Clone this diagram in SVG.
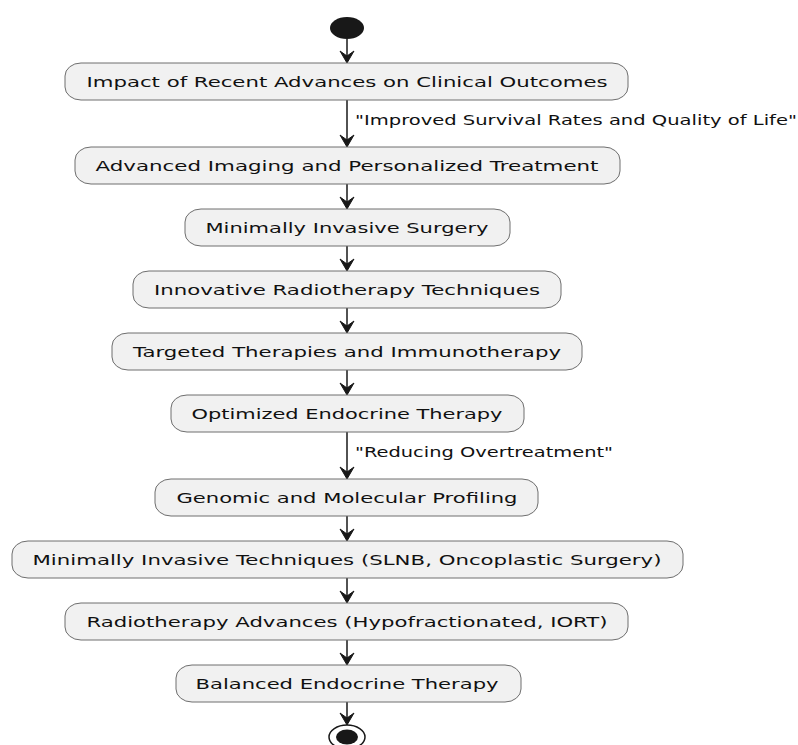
<svg xmlns="http://www.w3.org/2000/svg" width="798" height="745" viewBox="0 0 798 745">
<defs>
<style>
.node rect{fill:#F1F1F1;stroke:#6E6E6E;stroke-width:1}
.node text{font-family:"DejaVu Sans",sans-serif;font-size:14px;fill:#111;text-anchor:middle}
.lbl{font-family:"DejaVu Sans",sans-serif;font-size:13.5px;fill:#111}
.edge{stroke:#181818;stroke-width:1.5;fill:none}
.ah{fill:#181818;stroke:#181818;stroke-width:1}
</style>
</defs>
<rect width="798" height="745" fill="#FFFFFF"/>
<g id="start"><ellipse cx="347" cy="28" rx="17" ry="11" fill="#181818"/></g>
<g id="connectors">
<line class="edge" x1="347" y1="39" x2="347" y2="61"/>
<polygon class="ah" points="340,51 347,63 354,51 347,56"/>
<line class="edge" x1="347" y1="100" x2="347" y2="145"/>
<polygon class="ah" points="340,135 347,147 354,135 347,140"/>
<line class="edge" x1="347" y1="184" x2="347" y2="207"/>
<polygon class="ah" points="340,197 347,209 354,197 347,202"/>
<line class="edge" x1="347" y1="246" x2="347" y2="269"/>
<polygon class="ah" points="340,259 347,271 354,259 347,264"/>
<line class="edge" x1="347" y1="308" x2="347" y2="331"/>
<polygon class="ah" points="340,321 347,333 354,321 347,326"/>
<line class="edge" x1="347" y1="370" x2="347" y2="393"/>
<polygon class="ah" points="340,383 347,395 354,383 347,388"/>
<line class="edge" x1="347" y1="432" x2="347" y2="477"/>
<polygon class="ah" points="340,467 347,479 354,467 347,472"/>
<line class="edge" x1="347" y1="516" x2="347" y2="539"/>
<polygon class="ah" points="340,529 347,541 354,529 347,534"/>
<line class="edge" x1="347" y1="578" x2="347" y2="601"/>
<polygon class="ah" points="340,591 347,603 354,591 347,596"/>
<line class="edge" x1="347" y1="640" x2="347" y2="663"/>
<polygon class="ah" points="340,653 347,665 354,653 347,658"/>
<line class="edge" x1="347" y1="702" x2="347" y2="723"/>
<polygon class="ah" points="340,713 347,725 354,713 347,718"/>
<text class="lbl" x="355" y="125" textLength="442" lengthAdjust="spacingAndGlyphs">"Improved Survival Rates and Quality of Life"</text>
<text class="lbl" x="355" y="457" textLength="258" lengthAdjust="spacingAndGlyphs">"Reducing Overtreatment"</text>
</g>
<g id="n1" class="node"><rect x="65" y="63" width="563" height="37" rx="16" ry="13"/><text x="347" y="87" textLength="521" lengthAdjust="spacingAndGlyphs">Impact of Recent Advances on Clinical Outcomes</text></g>
<g id="n2" class="node"><rect x="75" y="147" width="545" height="37" rx="16" ry="13"/><text x="347" y="171" textLength="503" lengthAdjust="spacingAndGlyphs">Advanced Imaging and Personalized Treatment</text></g>
<g id="n3" class="node"><rect x="185" y="209" width="325" height="37" rx="16" ry="13"/><text x="347" y="233" textLength="283" lengthAdjust="spacingAndGlyphs">Minimally Invasive Surgery</text></g>
<g id="n4" class="node"><rect x="133" y="271" width="428" height="37" rx="16" ry="13"/><text x="347" y="295" textLength="386" lengthAdjust="spacingAndGlyphs">Innovative Radiotherapy Techniques</text></g>
<g id="n5" class="node"><rect x="112" y="333" width="470" height="37" rx="16" ry="13"/><text x="347" y="357" textLength="428" lengthAdjust="spacingAndGlyphs">Targeted Therapies and Immunotherapy</text></g>
<g id="n6" class="node"><rect x="171" y="395" width="353" height="37" rx="16" ry="13"/><text x="347" y="419" textLength="311" lengthAdjust="spacingAndGlyphs">Optimized Endocrine Therapy</text></g>
<g id="n7" class="node"><rect x="155" y="479" width="383" height="37" rx="16" ry="13"/><text x="347" y="503" textLength="341" lengthAdjust="spacingAndGlyphs">Genomic and Molecular Profiling</text></g>
<g id="n8" class="node"><rect x="12" y="541" width="671" height="37" rx="16" ry="13"/><text x="347" y="565" textLength="629" lengthAdjust="spacingAndGlyphs">Minimally Invasive Techniques (SLNB, Oncoplastic Surgery)</text></g>
<g id="n9" class="node"><rect x="65" y="603" width="563" height="37" rx="16" ry="13"/><text x="347" y="627" textLength="521" lengthAdjust="spacingAndGlyphs">Radiotherapy Advances (Hypofractionated, IORT)</text></g>
<g id="n10" class="node"><rect x="176" y="665" width="345" height="37" rx="16" ry="13"/><text x="347" y="689" textLength="303" lengthAdjust="spacingAndGlyphs">Balanced Endocrine Therapy</text></g>
<g id="end"><ellipse cx="347" cy="737" rx="18" ry="12" fill="none" stroke="#181818" stroke-width="1.5"/><ellipse cx="347" cy="737" rx="11" ry="7.5" fill="#181818"/></g>
</svg>
